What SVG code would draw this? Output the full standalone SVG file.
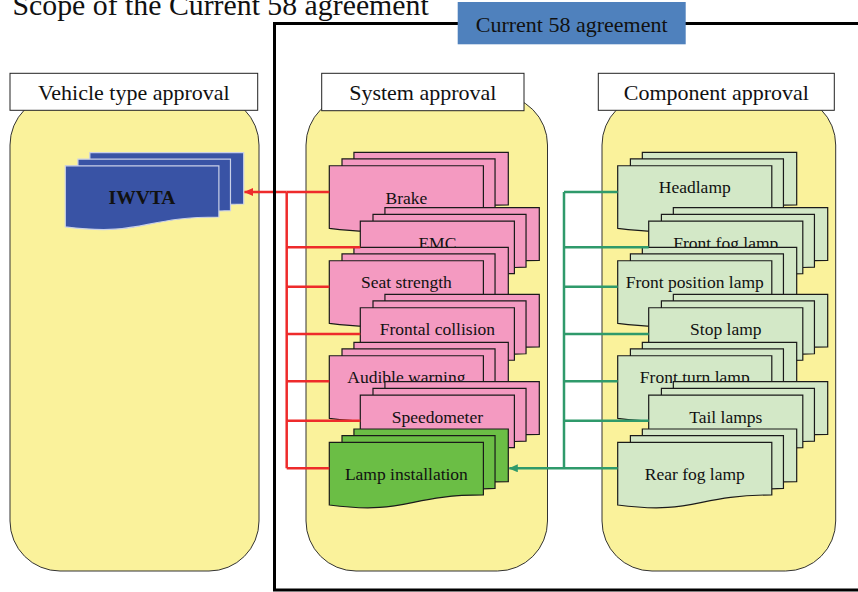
<svg xmlns="http://www.w3.org/2000/svg" xmlns:xlink="http://www.w3.org/1999/xlink" width="858" height="592" viewBox="0 0 858 592">
<style>
text{font-family:"Liberation Serif","Times New Roman",serif;fill:#111;}
.hdr{font-size:22px;text-anchor:middle;}
.lbl{font-size:17.5px;text-anchor:middle;}
.cont{fill:#FAF29B;stroke:#333;stroke-width:1;}
.hbox{fill:#fff;stroke:#222;stroke-width:1;}
.doc{stroke:#1a1a1a;stroke-width:1.2;stroke-linejoin:miter;}
.pink{fill:#F49AC1;}
.green{fill:#6BBE45;}
.lgreen{fill:#D3E8C7;}
.red{fill:none;stroke:#EE2B2B;stroke-width:2.5;}
.grn{fill:none;stroke:#2F9A6B;stroke-width:2.5;}
</style>
<defs>
<path id="mdoc" d="M0,76.01 C77.05,86.10 77.05,65.91 154.10,65.91 L154.10,13.44 L0,13.44 Z M12.70,13.44 L12.70,6.64 L165.74,6.64 L165.74,59.44 C159.92,59.44 154.10,59.81 154.10,59.81 L154.10,13.44 Z M24.63,6.64 L24.63,0 L179,0 L179,52.64 C172.37,52.64 165.74,52.91 165.74,52.91 L165.74,6.64 Z"/>
<marker id="arrR" viewBox="0 0 9 8" refX="8.5" refY="4" markerWidth="9" markerHeight="8" markerUnits="userSpaceOnUse" orient="auto"><path d="M0,0 L9,4 L0,8 Z" fill="#EE2B2B"/></marker>
<marker id="arrG" viewBox="0 0 9 8" refX="8.5" refY="4" markerWidth="9" markerHeight="8" markerUnits="userSpaceOnUse" orient="auto"><path d="M0,0 L9,4 L0,8 Z" fill="#2F9A6B"/></marker>
</defs>

<g id="containers">
<rect class="cont" x="10" y="95" width="249" height="476" rx="50" ry="50"/>
<rect class="cont" x="306" y="95" width="241.5" height="476" rx="50" ry="50"/>
<rect class="cont" x="602" y="95" width="233.7" height="476" rx="50" ry="50"/>
</g>

<g id="hdr-vehicle"><rect class="hbox" x="10" y="73.3" width="247.7" height="37"/><text class="hdr" x="133.8" y="100">Vehicle type approval</text></g>
<g id="hdr-system"><rect class="hbox" x="321.7" y="73.3" width="202.3" height="37.4"/><text class="hdr" x="422.8" y="100">System approval</text></g>
<g id="hdr-component"><rect class="hbox" x="598.3" y="73.3" width="236" height="37"/><text class="hdr" x="716.3" y="100">Component approval</text></g>

<g id="iwvta">
<use xlink:href="#mdoc" href="#mdoc" transform="translate(65.3,152.7) scale(0.9966,0.975)" style="fill:#3953A5;stroke:#C9D0E8;stroke-width:1.2"/>
<text x="142" y="204.3" style="font-size:19.5px;font-weight:bold;text-anchor:middle">IWVTA</text>
</g>

<g id="brake"><use class="doc pink" href="#mdoc" xlink:href="#mdoc" x="329.3" y="152.3"/><text class="lbl" x="406.4" y="204">Brake</text></g>
<g id="emc"><use class="doc pink" href="#mdoc" xlink:href="#mdoc" x="360.3" y="207.7"/><text class="lbl" x="437.4" y="248.7">EMC</text></g>
<g id="seat"><use class="doc pink" href="#mdoc" xlink:href="#mdoc" x="329.3" y="247.3"/><text class="lbl" x="406.4" y="288.3">Seat strength</text></g>
<g id="frontal"><use class="doc pink" href="#mdoc" xlink:href="#mdoc" x="360.3" y="294.3"/><text class="lbl" x="437.4" y="335.3">Frontal collision</text></g>
<g id="audible"><use class="doc pink" href="#mdoc" xlink:href="#mdoc" x="329.3" y="342.3"/><text class="lbl" x="406.4" y="383.3">Audible warning</text></g>
<g id="speedometer"><use class="doc pink" href="#mdoc" xlink:href="#mdoc" x="360.3" y="381.7"/><text class="lbl" x="437.4" y="422.7">Speedometer</text></g>
<g id="lampinst"><use class="doc green" href="#mdoc" xlink:href="#mdoc" x="329.3" y="429"/><text class="lbl" x="406.4" y="479.5">Lamp installation</text></g>

<g id="headlamp"><use class="doc lgreen" href="#mdoc" xlink:href="#mdoc" x="617.7" y="152.3"/><text class="lbl" x="694.8" y="193.3">Headlamp</text></g>
<g id="frontfog"><use class="doc lgreen" href="#mdoc" xlink:href="#mdoc" x="648.7" y="207.7"/><text class="lbl" x="725.8" y="248.7">Front fog lamp</text></g>
<g id="frontpos"><use class="doc lgreen" href="#mdoc" xlink:href="#mdoc" x="617.7" y="247.3"/><text class="lbl" x="694.8" y="288.3">Front position lamp</text></g>
<g id="stop"><use class="doc lgreen" href="#mdoc" xlink:href="#mdoc" x="648.7" y="294.3"/><text class="lbl" x="725.8" y="335.3">Stop lamp</text></g>
<g id="frontturn"><use class="doc lgreen" href="#mdoc" xlink:href="#mdoc" x="617.7" y="342.3"/><text class="lbl" x="694.8" y="383.3">Front turn lamp</text></g>
<g id="tail"><use class="doc lgreen" href="#mdoc" xlink:href="#mdoc" x="648.7" y="381.7"/><text class="lbl" x="725.8" y="422.7">Tail lamps</text></g>
<g id="rearfog"><use class="doc lgreen" href="#mdoc" xlink:href="#mdoc" x="617.7" y="429"/><text class="lbl" x="694.8" y="480">Rear fog lamp</text></g>

<g id="connectors">
<path class="red" d="M286.7,192 V468.3 M286.7,192 H329.3 M286.7,247.3 H360.3 M286.7,286.7 H329.3 M286.7,334 H360.3 M286.7,381.3 H329.3 M286.7,420.7 H360.3 M286.7,468.3 H329.3"/>
<path class="red" d="M286.7,192 H244.5" marker-end="url(#arrR)"/>
<path class="grn" d="M564,192 V468.3 M564,192 H617.7 M564,247.3 H648.7 M564,286.7 H617.7 M564,334 H648.7 M564,381.3 H617.7 M564,420.7 H648.7 M564,468.3 H617.7"/>
<path class="grn" d="M564,468.3 H509.3" marker-end="url(#arrG)"/>
</g>

<g id="scope-frame">
<rect x="274.5" y="23.5" width="620" height="566.5" fill="none" stroke="#000" stroke-width="3"/>
</g>
<g id="agreement-label">
<rect x="457.7" y="2" width="228" height="42.3" fill="#4F81BD"/>
<text class="hdr" x="571.7" y="31.7">Current 58 agreement</text>
</g>
<text x="12.5" y="15" style="font-size:29.8px">Scope of the Current 58 agreement</text>
</svg>
